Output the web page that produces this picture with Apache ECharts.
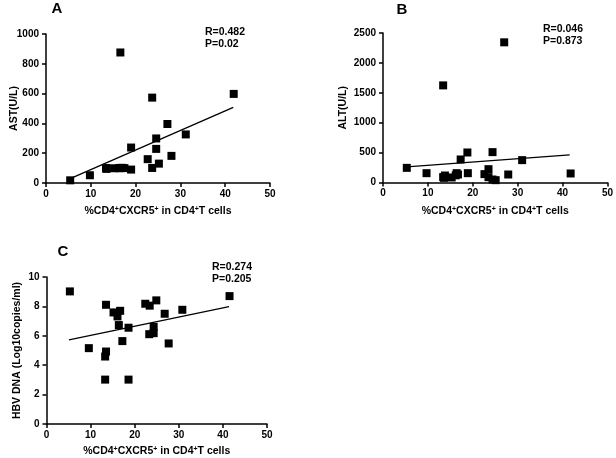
<!DOCTYPE html>
<html>
<head>
<meta charset="utf-8">
<script src="https://cdn.jsdelivr.net/npm/echarts@6/dist/echarts.min.js"></script>
<style>html,body{margin:0;padding:0;background:#fff;}#c{width:616px;height:458px;}</style>
</head>
<body>
<div id="c"></div>
<script>
// Panel A: AST(U/L) vs %CD4+CXCR5+
const astX = [5.4, 9.8, 13.4, 13.6, 13.5, 15.4, 16.3, 16.6, 16.9, 17.5, 16.6, 19.0, 19.0, 22.7, 23.7, 23.7, 24.6, 24.6, 25.2, 27.1, 28.0, 31.2, 41.9];
const astY = [18, 52, 99, 99, 95, 99, 100, 100, 102, 100, 876, 90, 238, 160, 573, 101, 299, 229, 130, 396, 182, 326, 598];
const astFitX = [5.4, 41.8];
const astFitY = [29, 508];

// Panel B: ALT(U/L)
const altX = [5.3, 9.7, 13.4, 13.4, 13.6, 13.8, 15.3, 16.2, 16.4, 16.7, 17.3, 18.8, 18.9, 22.6, 23.5, 23.5, 24.4, 24.4, 25.1, 27.0, 27.9, 31.0, 41.8];
const altY = [245, 156, 1624, 90, 78, 117, 84, 120, 156, 134, 385, 502, 156, 140, 223, 89, 508, 50, 39, 2344, 134, 374, 151];
const altFitX = [5.3, 41.6];
const altFitY = [262, 463];

// Panel C: HBV DNA (Log10copies/ml)
const hbvX = [5.3, 9.6, 13.5, 13.5, 13.3, 13.3, 15.2, 16.1, 16.7, 16.4, 17.2, 18.6, 18.6, 22.4, 23.4, 24.9, 24.3, 24.3, 23.3, 26.8, 27.7, 30.8, 41.5];
const hbvY = [9.02, 5.16, 8.11, 4.93, 4.59, 3.02, 7.59, 7.32, 7.70, 6.73, 5.64, 6.55, 3.02, 8.18, 8.05, 8.41, 6.61, 6.18, 6.11, 7.50, 5.48, 7.77, 8.70];
const hbvFitX = [5.1, 41.4];
const hbvFitY = [5.73, 7.98];

const xTicks = [0, 10, 20, 30, 40, 50];
const panelLetters = ['A', 'B', 'C'];
const yNames = ['AST(U/L)', 'ALT(U/L)', 'HBV DNA (Log10copies/ml)'];
const stats = [['R=0.482', 'P=0.02'], ['R=0.046', 'P=0.873'], ['R=0.274', 'P=0.205']];
const yMax = [1000, 2500, 10];
const yStep = [200, 500, 2];
const xName = '%CD4{sup|+}CXCR5{sup|+} in CD4{sup|+}T cells';

const pts = (xs, ys) => xs.map((x, i) => [x, ys[i]]);
const FONT = 'Liberation Sans, Arial, sans-serif';

const grids = [
  {left: 46, top: 34, width: 224, height: 149},
  {left: 383, top: 33, width: 225, height: 149.5},
  {left: 46.5, top: 277, width: 220.5, height: 147}
];

const axisCommon = {
  axisLine: {lineStyle: {color: '#000', width: 1.5}},
  axisTick: {length: 4, lineStyle: {color: '#000', width: 1.5}},
  splitLine: {show: false}
};
const labelStyle = {color: '#000', fontWeight: 'bold', fontSize: 10, fontFamily: FONT, formatter: v => String(v)};
const nameStyle = {color: '#000', fontWeight: 'bold', fontSize: 10.5, fontFamily: FONT};

const xAxes = grids.map((g, i) => Object.assign({}, axisCommon, {
  type: 'value', gridIndex: i, min: 0, max: 50, interval: 10,
  axisLabel: Object.assign({margin: 6}, labelStyle),
  name: xName, nameLocation: 'middle', nameGap: i === 2 ? 22 : 23, nameMoveOverlap: false,
  nameTextStyle: Object.assign({
    rich: {sup: {fontSize: 7, fontWeight: 'bold', verticalAlign: 'top', color: '#000', fontFamily: FONT}}}, nameStyle)
}));
const yAxes = grids.map((g, i) => Object.assign({}, axisCommon, {
  type: 'value', gridIndex: i, min: 0, max: yMax[i], interval: yStep[i],
  axisLabel: Object.assign({margin: 7}, labelStyle),
  name: yNames[i], nameLocation: 'middle', nameGap: i === 0 ? 26 : (i === 1 ? 34 : 24), nameMoveOverlap: false,
  nameTextStyle: nameStyle
}));

const scatterData = [pts(astX, astY), pts(altX, altY), pts(hbvX, hbvY)];
const fitData = [pts(astFitX, astFitY), pts(altFitX, altFitY), pts(hbvFitX, hbvFitY)];

const series = [];
for (let i = 0; i < 3; i++) {
  series.push({type: 'line', xAxisIndex: i, yAxisIndex: i, data: fitData[i], showSymbol: false,
    lineStyle: {color: '#000', width: 1.3}, silent: true, z: 2});
  series.push({type: 'scatter', xAxisIndex: i, yAxisIndex: i, data: scatterData[i], symbol: 'rect',
    symbolSize: 8, itemStyle: {color: '#000', opacity: 1}, silent: true, z: 3});
}

const letterPos = [[57, 9], [402, 10], [63, 252]];
const statPos = [[205, 26], [543, 23], [212, 261]];
const graphic = [];
panelLetters.forEach((l, i) => {
  graphic.push({type: 'text', x: letterPos[i][0], y: letterPos[i][1],
    style: {text: l, fill: '#000', font: 'bold 15px ' + FONT, textAlign: 'center', textVerticalAlign: 'middle'}});
  graphic.push({type: 'text', x: statPos[i][0], y: statPos[i][1],
    style: {text: stats[i].join('\n'), fill: '#000', font: 'bold 10.5px ' + FONT, lineHeight: 12}});
});

const chart = echarts.init(document.getElementById('c'), null, {renderer: 'canvas'});
chart.setOption({
  animation: false,
  backgroundColor: '#fff',
  grid: grids,
  xAxis: xAxes,
  yAxis: yAxes,
  series: series,
  graphic: graphic
});
</script>
</body>
</html>
